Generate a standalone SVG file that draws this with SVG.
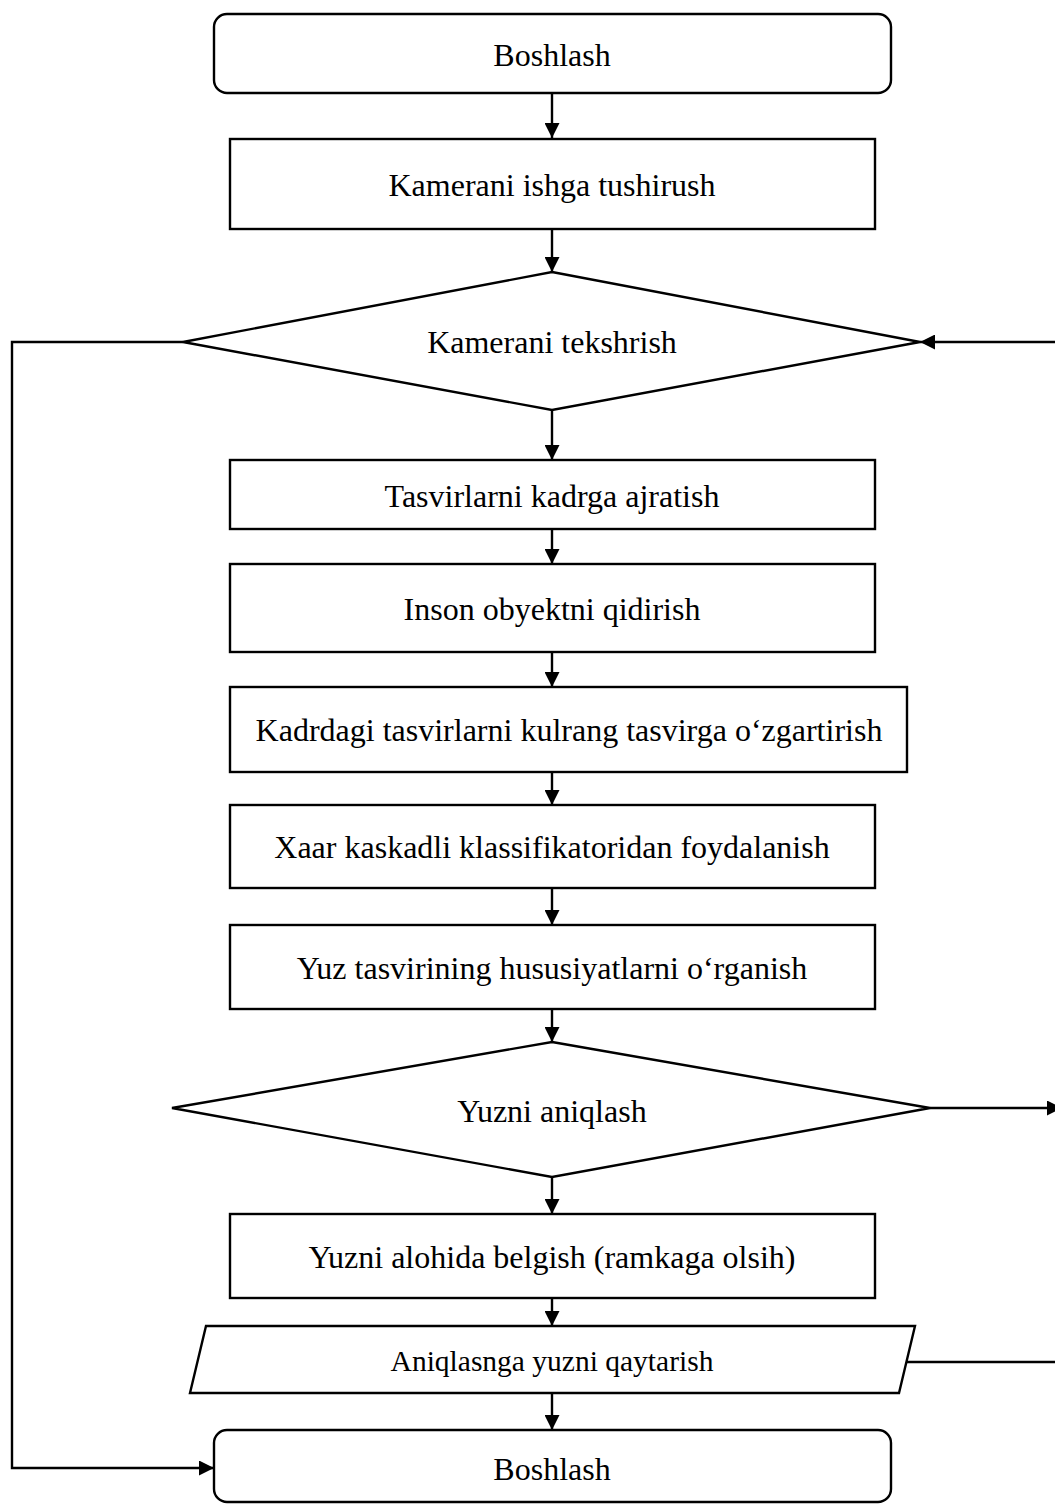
<svg xmlns="http://www.w3.org/2000/svg" width="1055" height="1504" viewBox="0 0 1055 1504">
<style>
.n{fill:#fff;stroke:#000;stroke-width:2.4}
.c{fill:none;stroke:#000;stroke-width:2.4}
text{font-family:"Liberation Serif","Times New Roman",serif;font-size:32px;fill:#000;text-anchor:middle;dominant-baseline:central}
</style>
<defs>
<marker id="ah" viewBox="0 0 10 10" refX="10" refY="5" markerWidth="15" markerHeight="15" markerUnits="userSpaceOnUse" orient="auto">
<path d="M0,0 L10,5 L0,10 Z" fill="#000"/>
</marker>
</defs>
<rect width="1055" height="1504" fill="#fff"/>
<g id="connectors">
<line class="c" x1="552" y1="93" x2="552" y2="138" marker-end="url(#ah)"/>
<line class="c" x1="552" y1="229" x2="552" y2="272" marker-end="url(#ah)"/>
<line class="c" x1="552" y1="410" x2="552" y2="460" marker-end="url(#ah)"/>
<line class="c" x1="552" y1="529" x2="552" y2="564" marker-end="url(#ah)"/>
<line class="c" x1="552" y1="652" x2="552" y2="687" marker-end="url(#ah)"/>
<line class="c" x1="552" y1="772" x2="552" y2="805" marker-end="url(#ah)"/>
<line class="c" x1="552" y1="888" x2="552" y2="925" marker-end="url(#ah)"/>
<line class="c" x1="552" y1="1009" x2="552" y2="1042" marker-end="url(#ah)"/>
<line class="c" x1="552" y1="1177" x2="552" y2="1214" marker-end="url(#ah)"/>
<line class="c" x1="552" y1="1298" x2="552" y2="1326" marker-end="url(#ah)"/>
<line class="c" x1="552" y1="1393" x2="552" y2="1430" marker-end="url(#ah)"/>
<line class="c" x1="1056" y1="342" x2="920" y2="342" marker-end="url(#ah)"/>
<polyline class="c" points="183,342 12,342 12,1468 214,1468" marker-end="url(#ah)"/>
<line class="c" x1="930" y1="1108" x2="1062" y2="1108" marker-end="url(#ah)"/>
<line class="c" x1="905" y1="1362" x2="1056" y2="1362"/>
</g>
<g id="start"><rect class="n" x="214" y="14" width="677" height="79" rx="13"/><text x="552" y="55">Boshlash</text></g>
<g id="camera-start"><rect class="n" x="230" y="139" width="645" height="90"/><text x="552" y="185">Kamerani ishga tushirush</text></g>
<g id="camera-check"><polygon class="n" points="552,272 920,342 552,410 183,342"/><text x="552" y="342">Kamerani tekshrish</text></g>
<g id="frames"><rect class="n" x="230" y="460" width="645" height="69"/><text x="552" y="496">Tasvirlarni kadrga ajratish</text></g>
<g id="search"><rect class="n" x="230" y="564" width="645" height="88"/><text x="552" y="609">Inson obyektni qidirish</text></g>
<g id="gray"><rect class="n" x="230" y="687" width="677" height="85"/><text x="569" y="730">Kadrdagi tasvirlarni kulrang tasvirga o‘zgartirish</text></g>
<g id="haar"><rect class="n" x="230" y="805" width="645" height="83"/><text x="552" y="847">Xaar kaskadli klassifikatoridan foydalanish</text></g>
<g id="features"><rect class="n" x="230" y="925" width="645" height="84"/><text x="552" y="968">Yuz tasvirining hususiyatlarni o‘rganish</text></g>
<g id="detect"><polygon class="n" points="552,1042 930,1108 552,1177 172,1108"/><text x="552" y="1111">Yuzni aniqlash</text></g>
<g id="mark"><rect class="n" x="230" y="1214" width="645" height="84"/><text x="552" y="1257">Yuzni alohida belgish (ramkaga olsih)</text></g>
<g id="return"><polygon class="n" points="206,1326 915,1326 899,1393 190,1393"/><text x="552" y="1361" style="font-size:29.5px">Aniqlasnga yuzni qaytarish</text></g>
<g id="end"><rect class="n" x="214" y="1430" width="677" height="72" rx="13"/><text x="552" y="1469">Boshlash</text></g>
</svg>
